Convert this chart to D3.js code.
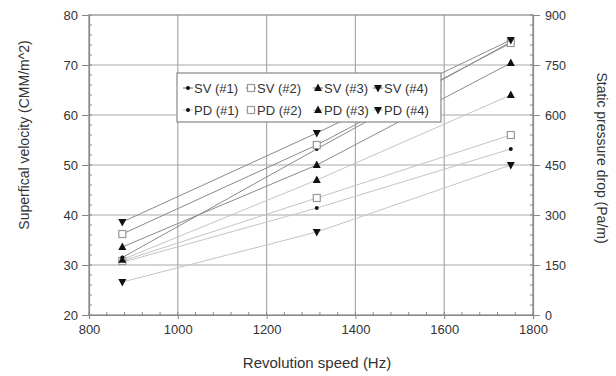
<!DOCTYPE html>
<html>
<head>
<meta charset="utf-8">
<script src="https://cdn.jsdelivr.net/npm/d3@7"></script>
<style>
body { margin: 0; background: #fff; }
text { font-family: "Liberation Sans", Arial, sans-serif; fill: #333; }
</style>
</head>
<body>
<div id="chart"></div>
<script>
// revolution speeds (Hz)
var speeds = [875, 1313, 1750];

// superficial velocity (CMM/m^2), left axis
var sv1 = [31.5, 53.2, 74.6];
var sv2 = [36.2, 54.0, 74.4];
var sv3 = [33.6, 50.0, 70.4];
var sv4 = [38.6, 56.4, 75.0];

// static pressure drop (Pa/m), right axis
var pd1 = [158, 321, 498];
var pd2 = [162, 351, 540];
var pd3 = [166, 405, 660];
var pd4 = [99, 249, 450];

var svNames = ['SV (#1)', 'SV (#2)', 'SV (#3)', 'SV (#4)'];
var pdNames = ['PD (#1)', 'PD (#2)', 'PD (#3)', 'PD (#4)'];
var shapes = ['dot', 'square', 'up', 'down'];

var xTicks = [800, 1000, 1200, 1400, 1600, 1800];
var yLeftTicks = [20, 30, 40, 50, 60, 70, 80];
var yRightTicks = [0, 150, 300, 450, 600, 750, 900];

var width = 616, height = 376;
var svg = d3.select('#chart').append('svg')
	.attr('width', width)
	.attr('height', height);

var x = d3.scaleLinear().domain([800, 1800]).range([89, 533]);
var yL = d3.scaleLinear().domain([20, 80]).range([315, 15]);
var yR = d3.scaleLinear().domain([0, 900]).range([315, 15]);

// grid
svg.append('g').selectAll('line')
	.data(xTicks.slice(1, -1))
	.enter().append('line')
	.attr('x1', function(d){ return x(d); })
	.attr('x2', function(d){ return x(d); })
	.attr('y1', 15).attr('y2', 315)
	.attr('stroke', '#aaa').attr('stroke-width', 1.2);

svg.append('g').selectAll('line')
	.data(yLeftTicks.slice(1, -1))
	.enter().append('line')
	.attr('x1', 89).attr('x2', 533)
	.attr('y1', function(d){ return yL(d); })
	.attr('y2', function(d){ return yL(d); })
	.attr('stroke', '#aaa').attr('stroke-width', 1.2);

// frame
svg.append('rect')
	.attr('x', 89).attr('y', 15)
	.attr('width', 444).attr('height', 300)
	.attr('fill', 'none').attr('stroke', '#888').attr('stroke-width', 1.2);

// minor ticks
svg.append('g').selectAll('line')
	.data(d3.range(800, 1801, 40))
	.enter().append('line')
	.attr('x1', function(d){ return x(d); })
	.attr('x2', function(d){ return x(d); })
	.attr('y1', 315).attr('y2', 312)
	.attr('stroke', '#888');

svg.append('g').selectAll('line')
	.data(d3.range(20, 81, 2))
	.enter().append('line')
	.attr('x1', 89).attr('x2', 92)
	.attr('y1', function(d){ return yL(d); })
	.attr('y2', function(d){ return yL(d); })
	.attr('stroke', '#888');

svg.append('g').selectAll('line')
	.data(d3.range(0, 901, 30))
	.enter().append('line')
	.attr('x1', 530).attr('x2', 533)
	.attr('y1', function(d){ return yR(d); })
	.attr('y2', function(d){ return yR(d); })
	.attr('stroke', '#888');

// axes
var xAxis = svg.append('g')
	.attr('transform', 'translate(0,315)')
	.call(d3.axisBottom(x).tickValues(xTicks).tickFormat(d3.format('d')).tickSize(4).tickPadding(6));
var yAxisL = svg.append('g')
	.attr('transform', 'translate(89,0)')
	.call(d3.axisLeft(yL).tickValues(yLeftTicks).tickSize(7).tickPadding(4));
var yAxisR = svg.append('g')
	.attr('transform', 'translate(533,0)')
	.call(d3.axisRight(yR).tickValues(yRightTicks).tickSize(7).tickPadding(5));

[xAxis, yAxisL, yAxisR].forEach(function(a){
	a.select('.domain').attr('stroke', '#888').attr('stroke-width', 1.2);
	a.selectAll('.tick line').attr('stroke', '#888');
	a.selectAll('.tick text').style('font-size', '13px').style('fill', '#333');
});
yAxisR.selectAll('.tick text').style('font-size', '12.5px');

// axis titles
svg.append('text')
	.attr('transform', 'translate(29,135) rotate(-90)')
	.attr('text-anchor', 'middle')
	.style('font-size', '14px')
	.text('Superfical velocity (CMM/m^2)');

svg.append('text')
	.attr('transform', 'translate(597,158) rotate(90)')
	.attr('text-anchor', 'middle')
	.style('font-size', '14px')
	.text('Static pressure drop (Pa/m)');

svg.append('text')
	.attr('x', 317).attr('y', 368)
	.attr('text-anchor', 'middle')
	.style('font-size', '15px')
	.text('Revolution speed (Hz)');

// markers
function drawMarker(g, shape, cx, cy) {
	if (shape == 'dot') {
		g.append('circle').attr('cx', cx).attr('cy', cy).attr('r', 2).attr('fill', '#111');
	}
	else if (shape == 'square') {
		g.append('rect').attr('x', cx - 3.5).attr('y', cy - 3.5)
			.attr('width', 7).attr('height', 7)
			.attr('fill', '#fff').attr('stroke', '#999').attr('stroke-width', 1.2);
	}
	else if (shape == 'up') {
		g.append('path').attr('transform', 'translate(' + cx + ',' + cy + ')')
			.attr('d', 'M0,-4.5L4,3L-4,3Z').attr('fill', '#111');
	}
	else {
		g.append('path').attr('transform', 'translate(' + cx + ',' + cy + ')')
			.attr('d', 'M0,4.5L4,-3L-4,-3Z').attr('fill', '#111');
	}
}

var line = d3.line();

function drawSeries(vals, yScale, shape, color) {
	var pts = speeds.map(function(s, i){ return [x(s), yScale(vals[i])]; });
	var g = svg.append('g');
	g.append('path').attr('d', line(pts))
		.attr('fill', 'none').attr('stroke', color).attr('stroke-width', 1);
	pts.forEach(function(p){ drawMarker(g, shape, p[0], p[1]); });
}

var pdSeries = [pd1, pd2, pd3, pd4];
var svSeries = [sv1, sv2, sv3, sv4];
pdSeries.forEach(function(v, i){ drawSeries(v, yR, shapes[i], '#c4c4c4'); });
svSeries.forEach(function(v, i){ drawSeries(v, yL, shapes[i], '#8a8a8a'); });

// legend
var legend = svg.append('g');
legend.append('rect')
	.attr('x', 177).attr('y', 73)
	.attr('width', 264).attr('height', 49)
	.attr('fill', '#fff').attr('stroke', '#888').attr('stroke-width', 1.2);

var colX = [188, 251, 318, 378];
function legendRow(names, rowY, color) {
	names.forEach(function(name, i){
		var g = legend.append('g');
		g.append('line')
			.attr('x1', colX[i] - 5).attr('x2', colX[i] + 5)
			.attr('y1', rowY).attr('y2', rowY)
			.attr('stroke', color);
		drawMarker(g, shapes[i], colX[i], rowY);
		g.append('text')
			.attr('x', colX[i] + 6).attr('y', rowY)
			.attr('dy', '.35em')
			.style('font-size', '13px')
			.text(name);
	});
}
legendRow(svNames, 88, '#666');
legendRow(pdNames, 110, '#bbb');
</script>
</body>
</html>
